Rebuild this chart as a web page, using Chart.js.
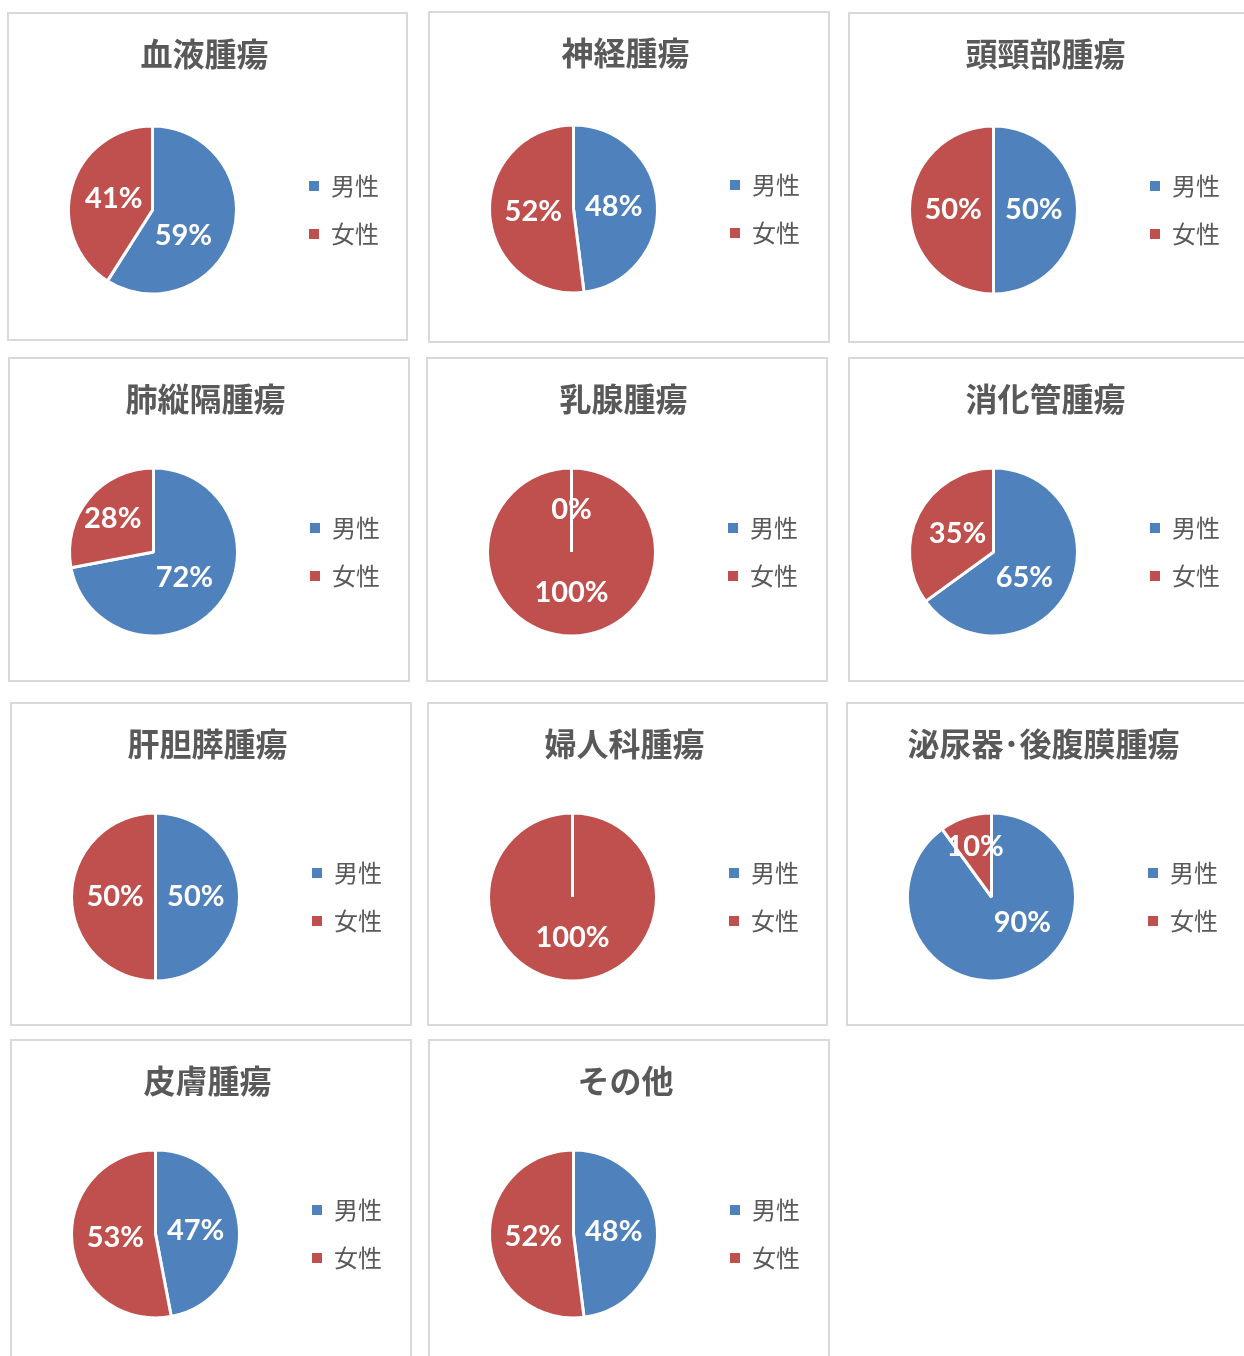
<!DOCTYPE html>
<html lang="ja">
<head>
<meta charset="utf-8">
<title>腫瘍別 男女比</title>
<script src="https://cdn.jsdelivr.net/npm/chart.js@4.4.1/dist/chart.umd.min.js"></script>
<style>
  html, body { margin: 0; padding: 0; background: #fff; overflow: hidden; }
  body { width: 1244px; height: 1356px; position: relative; }
  .panel { position: absolute; box-sizing: border-box; border: 2px solid #d9d9d9; background: #fff; overflow: hidden; }
  .panel canvas { display: block; }
</style>
</head>
<body>
<script>
// data
const tumorTypes = ['血液腫瘍', '神経腫瘍', '頭頸部腫瘍', '肺縦隔腫瘍', '乳腺腫瘍', '消化管腫瘍',
                    '肝胆膵腫瘍', '婦人科腫瘍', '泌尿器･後腹膜腫瘍', '皮膚腫瘍', 'その他'];
const sexLabels = ['男性', '女性'];
const malePct   = [59, 48, 50, 72, 0,   65, 50, null, 90, 47, 48];  // null = no label shown
const femalePct = [41, 52, 50, 28, 100, 35, 50, 100,  10, 53, 52];

// panel boxes on the page: [left, top, width, height]
const panelBoxes = [
  [7, 12, 401, 329], [428, 11, 402, 332], [848, 12, 404, 331],
  [8, 357, 402, 325], [426, 357, 402, 325], [848, 357, 404, 325],
  [10, 702, 402, 324], [427, 702, 401, 324], [846, 702, 406, 324],
  [10, 1039, 402, 330], [428, 1039, 402, 330]
];

const BLUE = '#4f81bd';
const RED = '#c0504d';
const GREY = '#595959';
const CJK = '"Noto Sans CJK JP", "Noto Sans", sans-serif';

// percent labels inside the slices, roughly like Excel's "best fit"
const sliceLabels = {
  id: 'sliceLabels',
  afterDatasetsDraw(chart) {
    const ctx = chart.ctx;
    const meta = chart.getDatasetMeta(0);
    const values = chart.data.datasets[0].data;
    const total = values.reduce((s, v) => s + (v || 0), 0);
    ctx.save();
    ctx.fillStyle = '#ffffff';
    ctx.font = 'bold 29px Lato, "Open Sans", sans-serif';
    ctx.textAlign = 'center';
    ctx.textBaseline = 'middle';
    meta.data.forEach((arc, i) => {
      const v = values[i];
      if (v === null || v === undefined) return;
      const p = arc.getProps(['x', 'y', 'startAngle', 'endAngle', 'outerRadius'], true);
      const f = v / total;
      let a = (p.startAngle + p.endAngle) / 2;
      if (f >= 0.55 && f < 1) a = p.startAngle + Math.PI * 130 / 180;
      const d = p.outerRadius * (f === 0 ? 0.5 : f < 0.3 ? 0.63 : 0.48);
      ctx.fillText(v + '%', p.x + Math.cos(a) * d, p.y + Math.sin(a) * d);
    });
    ctx.restore();
  }
};

const pieLegendLabels = (chart) =>
  Chart.overrides.pie.plugins.legend.labels.generateLabels(chart)
    .map(item => Object.assign(item, { lineWidth: 0 }));

tumorTypes.forEach((name, i) => {
  const [left, top, w, h] = panelBoxes[i];
  const panel = document.createElement('div');
  panel.className = 'panel';
  panel.style.left = left + 'px';
  panel.style.top = top + 'px';
  panel.style.width = w + 'px';
  panel.style.height = h + 'px';
  document.body.appendChild(panel);

  const canvas = document.createElement('canvas');
  const cw = 397, ch = h - 4;
  canvas.width = cw;
  canvas.height = ch;
  canvas.style.width = cw + 'px';
  canvas.style.height = ch + 'px';
  panel.appendChild(canvas);

  // pie centre sits a little lower in the first row
  const centerY = i < 3 ? 196 : 193;
  const titleBottom = 21 + 32 * 1.2 + 10;
  const padBottom = ch - (2 * centerY - titleBottom);

  new Chart(canvas.getContext('2d'), {
    type: 'pie',
    data: {
      labels: sexLabels,
      datasets: [{
        data: [malePct[i], femalePct[i]],
        backgroundColor: [BLUE, RED],
        borderColor: '#ffffff',
        borderWidth: 3,
        radius: 84
      }]
    },
    options: {
      responsive: false,
      devicePixelRatio: 1,
      animation: false,
      layout: { padding: { left: 11, right: 17, top: 0, bottom: padBottom } },
      plugins: {
        title: {
          display: true,
          text: name,
          color: GREY,
          font: { family: CJK, size: 32, weight: 'bold' },
          padding: { top: 21, bottom: 10 }
        },
        legend: {
          position: 'right',
          align: 'center',
          fullSize: false,
          labels: {
            boxWidth: 10,
            boxHeight: 10,
            padding: 24,
            color: GREY,
            font: { family: CJK, size: 24 },
            generateLabels: pieLegendLabels
          }
        },
        tooltip: { enabled: false }
      }
    },
    plugins: [sliceLabels]
  });
});
</script>
</body>
</html>
